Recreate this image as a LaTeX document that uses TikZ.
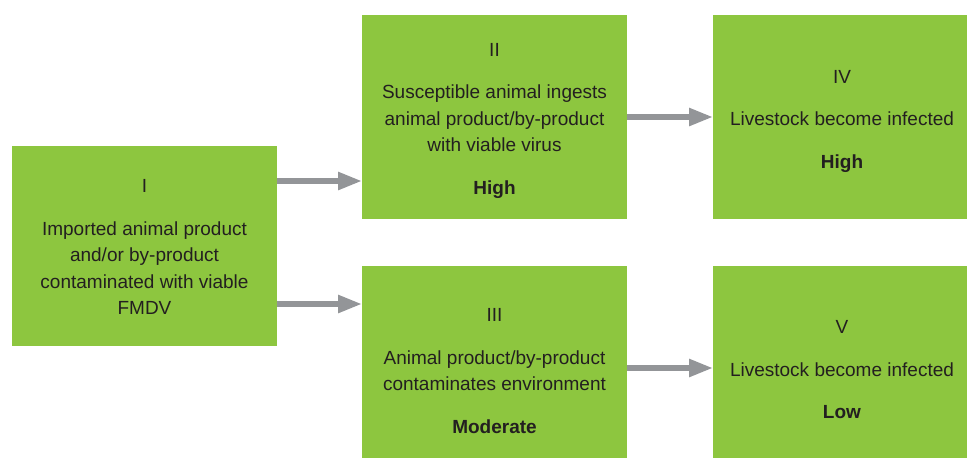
\documentclass[tikz,border=0pt]{standalone}
\usepackage{fontspec}
\setmainfont{Liberation Sans}
\usetikzlibrary{arrows.meta}
\definecolor{boxgreen}{HTML}{8DC63F}
\definecolor{arrgray}{HTML}{939598}
\definecolor{txtcol}{HTML}{231F20}
\begin{document}
\begin{tikzpicture}[x=1pt,y=-1pt,
  greenbox/.style={fill=boxgreen, draw=none, inner sep=0pt, outer sep=0pt, anchor=north west},
  boxtext/.style={align=center, text=txtcol, font=\fontsize{19}{26.5}\selectfont, inner sep=0pt},
  arr/.style={draw=arrgray, line width=5.5pt, -{Triangle[length=24pt,width=17pt]}}]
\useasboundingbox (0,0) rectangle (967,458);
\node[greenbox, minimum width=265pt, minimum height=200pt] (b1) at (12,146) {};
\node[greenbox, minimum width=265pt, minimum height=204pt] (b2) at (362,15) {};
\node[greenbox, minimum width=265pt, minimum height=192pt] (b3) at (362,266) {};
\node[greenbox, minimum width=254pt, minimum height=204pt] (b4) at (713,15) {};
\node[greenbox, minimum width=254pt, minimum height=192pt] (b5) at (713,266) {};
\node[boxtext] (t1) at (144.5,247) {I\\[16pt]Imported animal product\\and/or by-product\\contaminated with viable\\FMDV};
\node[boxtext] (t2) at (494.5,120.5) {II\\[16pt]Susceptible animal ingests\\animal product/by-product\\with viable virus\\[16pt]\textbf{High}};
\node[boxtext] (t3) at (494.5,371) {III\\[16pt]Animal product/by-product\\contaminates environment\\[16pt]\textbf{Moderate}};
\node[boxtext] (t4) at (842,121) {IV\\[16pt]Livestock become infected\\[16pt]\textbf{High}};
\node[boxtext] (t5) at (842,370) {V\\[16pt]Livestock become infected\\[16pt]\textbf{Low}};
\draw[arr] (b1.east |- 0,181) -- (b2.west |- 0,181);
\draw[arr] (b1.east |- 0,304) -- (b3.west |- 0,304);
\draw[arr] (b2.east |- 0,117) -- (b4.west |- 0,117);
\draw[arr] (b3.east |- 0,368) -- (b5.west |- 0,368);
\end{tikzpicture}
\end{document}
